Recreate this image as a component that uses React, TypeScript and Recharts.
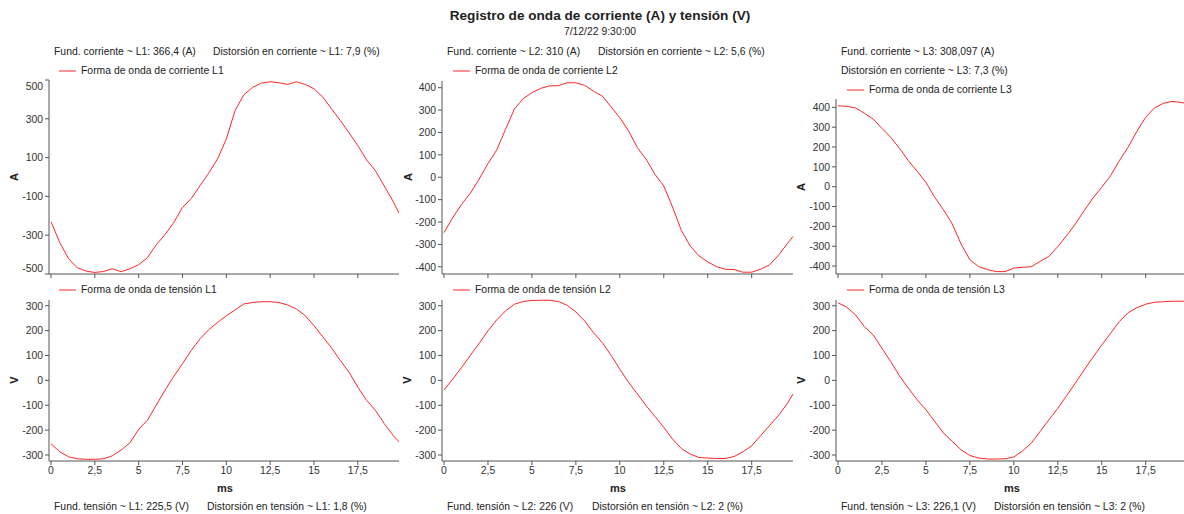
import React from 'react';
import { LineChart, Line, XAxis, YAxis } from 'recharts';

// time axis (ms), one sample every 0.5 ms plus the last sample of the cycle
const timeMs = [
  0, 0.5, 1, 1.5, 2, 2.5, 3, 3.5, 4, 4.5, 5, 5.5, 6, 6.5, 7, 7.5, 8, 8.5, 9, 9.5,
  10, 10.5, 11, 11.5, 12, 12.5, 13, 13.5, 14, 14.5, 15, 15.5, 16, 16.5, 17, 17.5, 18, 18.5, 19, 19.5, 19.85,
];

const currentL1 = [
  -230, -338, -421, -468, -485, -492, -487, -473, -488, -473, -452, -416, -350, -297, -235, -157, -111, -45, 21, 93,
  196, 343, 424, 462, 484, 491, 486, 477, 491, 477, 455, 412, 352, 291, 228, 162, 88, 33, -45, -123, -186,
];
const currentL2 = [
  -247, -180, -121, -71, -8, 61, 122, 214, 304, 351, 378, 397, 408, 409, 422, 422, 411, 385, 363, 315,
  266, 207, 132, 80, 13, -39, -133, -237, -307, -351, -378, -399, -411, -412, -424, -424, -411, -392, -351, -299, -265,
];
const currentL3 = [
  408, 405, 397, 370, 341, 294, 249, 193, 131, 78, 22, -53, -116, -188, -289, -368, -403, -418, -428, -428,
  -410, -406, -403, -376, -351, -302, -247, -188, -121, -57, -3, 55, 131, 199, 279, 350, 397, 420, 430, 425, 418,
];
const voltageL1 = [
  -255, -287, -307, -315, -317, -317, -315, -303, -280, -251, -197, -160, -100, -40, 16, 67, 120, 167, 204, 233,
  260, 283, 307, 313, 316, 316, 313, 303, 287, 260, 220, 175, 131, 80, 33, -27, -80, -120, -173, -220, -247,
];
const voltageL2 = [
  -38, 5, 52, 101, 149, 199, 243, 279, 306, 317, 321, 322, 322, 317, 302, 275, 239, 192, 152, 101,
  45, -8, -55, -102, -145, -189, -236, -274, -296, -310, -312, -314, -314, -306, -287, -263, -223, -183, -143, -96, -55,
];
const voltageL3 = [
  312, 294, 263, 216, 183, 129, 75, 18, -31, -78, -118, -165, -212, -245, -279, -302, -312, -316, -316, -315,
  -308, -283, -252, -205, -158, -112, -62, -11, 42, 93, 142, 189, 236, 272, 292, 306, 314, 316, 318, 318, 318,
];

const xTicks = [0, 2.5, 5, 7.5, 10, 12.5, 15, 17.5];
const ticksL1 = [-500, -300, -100, 100, 300, 500];
const ticks400 = [-400, -300, -200, -100, 0, 100, 200, 300, 400];
const ticksV = [-300, -200, -100, 0, 100, 200, 300];

const FONT = '"Liberation Sans", Arial, sans-serif';
const RED = '#ff2626';
const AXIS = '#555';
const YW = 46;
const MT = 8;

const toRows = (vals: number[]) => timeMs.map((t, i) => ({ t, v: vals[i] }));

const YTick = (props: any) => {
  const { x, y, payload, lo, hi } = props;
  const yy = Math.min(Math.max(y, lo), hi);
  return (
    <text x={x} y={yy} dy="0.36em" textAnchor="end" fontSize={10.4} fill="#333" fontFamily={FONT}>
      {payload.value}
    </text>
  );
};

type PanelProps = {
  values: number[];
  axisX: number;
  top: number;
  bottom: number;
  plotW: number;
  domain: [number, number];
  ticks: number[];
  showX: boolean;
};

const Panel = ({ values, axisX, top, bottom, plotW, domain, ticks, showX }: PanelProps) => {
  const plotH = bottom - top;
  const xh = showX ? 24 : 6;
  const w = YW + 2 + plotW + 8;
  const h = MT + plotH + xh;
  return (
    <div style={{ position: 'absolute', left: axisX - YW, top: top - MT }}>
      <LineChart width={w} height={h} data={toRows(values)} margin={{ top: MT, right: 8, left: 0, bottom: 0 }}>
        <XAxis
          type="number"
          dataKey="t"
          domain={[0, 19.85]}
          ticks={xTicks}
          interval={0}
          padding={{ left: 2, right: 0 }}
          height={xh}
          tickSize={4}
          tickMargin={2}
          stroke={AXIS}
          tick={{ fontSize: 10.4, fill: '#333', fontFamily: FONT }}
          tickFormatter={(v: number) => (showX ? String(v).replace('.', ',') : '')}
        />
        <YAxis
          type="number"
          width={YW}
          domain={domain}
          ticks={ticks}
          interval={0}
          tickSize={4}
          tickMargin={2}
          stroke={AXIS}
          tick={(p: any) => <YTick {...p} lo={MT + 6} hi={MT + plotH - 6} />}
        />
        <Line
          type="linear"
          dataKey="v"
          stroke={RED}
          strokeWidth={1}
          dot={false}
          isAnimationActive={false}
        />
      </LineChart>
    </div>
  );
};

const Txt = ({ x, y, children, size = 10.4, bold = false, center = false }: any) => (
  <div
    style={{
      position: 'absolute',
      left: x,
      top: y,
      transform: center ? 'translate(-50%, -50%)' : 'translateY(-50%)',
      fontSize: size,
      fontWeight: bold ? 'bold' : 'normal',
      lineHeight: 1,
      whiteSpace: 'nowrap',
      color: '#222',
    }}
  >
    {children}
  </div>
);

const VTxt = ({ x, y, children }: any) => (
  <div
    style={{
      position: 'absolute',
      left: x,
      top: y,
      transform: 'translate(-50%, -50%) rotate(-90deg)',
      fontSize: 11,
      fontWeight: 'bold',
      lineHeight: 1,
      color: '#222',
    }}
  >
    {children}
  </div>
);

const LegendItem = ({ x, y, label }: any) => (
  <>
    <svg style={{ position: 'absolute', left: x, top: y - 2 }} width={18} height={4}>
      <line x1={0} y1={2} x2={17} y2={2} stroke={RED} strokeWidth={1} />
    </svg>
    <Txt x={x + 22} y={y}>{label}</Txt>
  </>
);

const cols = [
  { axisX: 49, plotW: 348, topPlot: 80 },
  { axisX: 442, plotW: 349, topPlot: 81 },
  { axisX: 836, plotW: 349, topPlot: 99 },
];

const App = () => {
  return (
    <div
      style={{
        position: 'absolute',
        left: 0,
        top: 0,
        width: 1184,
        height: 514,
        overflow: 'hidden',
        background: '#fff',
        fontFamily: FONT,
      }}
    >
      <Txt x={600} y={16} size={13.6} bold center>Registro de onda de corriente (A) y tensión (V)</Txt>
      <Txt x={600} y={32} size={10.4} center>7/12/22 9:30:00</Txt>

      {/* current headers */}
      <Txt x={54} y={52}>Fund. corriente ~ L1: 366,4 (A)</Txt>
      <Txt x={213} y={52}>Distorsión en corriente ~ L1: 7,9 (%)</Txt>
      <Txt x={447} y={52}>Fund. corriente ~ L2: 310 (A)</Txt>
      <Txt x={598} y={52}>Distorsión en corriente ~ L2: 5,6 (%)</Txt>
      <Txt x={841} y={52}>Fund. corriente ~ L3: 308,097 (A)</Txt>
      <Txt x={841} y={71}>Distorsión en corriente ~ L3: 7,3 (%)</Txt>

      <LegendItem x={59} y={71} label="Forma de onda de corriente L1" />
      <LegendItem x={453} y={71} label="Forma de onda de corriente L2" />
      <LegendItem x={847} y={90} label="Forma de onda de corriente L3" />

      <LegendItem x={59} y={290} label="Forma de onda de tensión L1" />
      <LegendItem x={453} y={290} label="Forma de onda de tensión L2" />
      <LegendItem x={847} y={290} label="Forma de onda de tensión L3" />

      <Panel values={currentL1} axisX={cols[0].axisX} top={cols[0].topPlot} bottom={274} plotW={cols[0].plotW} domain={[-500, 500]} ticks={ticksL1} showX={false} />
      <Panel values={currentL2} axisX={cols[1].axisX} top={cols[1].topPlot} bottom={274} plotW={cols[1].plotW} domain={[-432, 430]} ticks={ticks400} showX={false} />
      <Panel values={currentL3} axisX={cols[2].axisX} top={cols[2].topPlot} bottom={274} plotW={cols[2].plotW} domain={[-440, 442]} ticks={ticks400} showX={false} />

      <Panel values={voltageL1} axisX={cols[0].axisX} top={300} bottom={461} plotW={cols[0].plotW} domain={[-324, 323]} ticks={ticksV} showX />
      <Panel values={voltageL2} axisX={cols[1].axisX} top={300} bottom={461} plotW={cols[1].plotW} domain={[-324, 323]} ticks={ticksV} showX />
      <Panel values={voltageL3} axisX={cols[2].axisX} top={300} bottom={461} plotW={cols[2].plotW} domain={[-324, 323]} ticks={ticksV} showX />

      <VTxt x={14} y={177}>A</VTxt>
      <VTxt x={408} y={177}>A</VTxt>
      <VTxt x={801} y={187}>A</VTxt>
      <VTxt x={14} y={380}>V</VTxt>
      <VTxt x={407} y={380}>V</VTxt>
      <VTxt x={801} y={380}>V</VTxt>

      <Txt x={225} y={488} size={11} bold center>ms</Txt>
      <Txt x={618} y={488} size={11} bold center>ms</Txt>
      <Txt x={1012} y={488} size={11} bold center>ms</Txt>

      <Txt x={54} y={507}>Fund. tensión ~ L1: 225,5 (V)</Txt>
      <Txt x={207} y={507}>Distorsión en tensión ~ L1: 1,8 (%)</Txt>
      <Txt x={447} y={507}>Fund. tensión ~ L2: 226 (V)</Txt>
      <Txt x={592} y={507}>Distorsión en tensión ~ L2: 2 (%)</Txt>
      <Txt x={841} y={507}>Fund. tensión ~ L3: 226,1 (V)</Txt>
      <Txt x={994} y={507}>Distorsión en tensión ~ L3: 2 (%)</Txt>
    </div>
  );
};

export default App;
